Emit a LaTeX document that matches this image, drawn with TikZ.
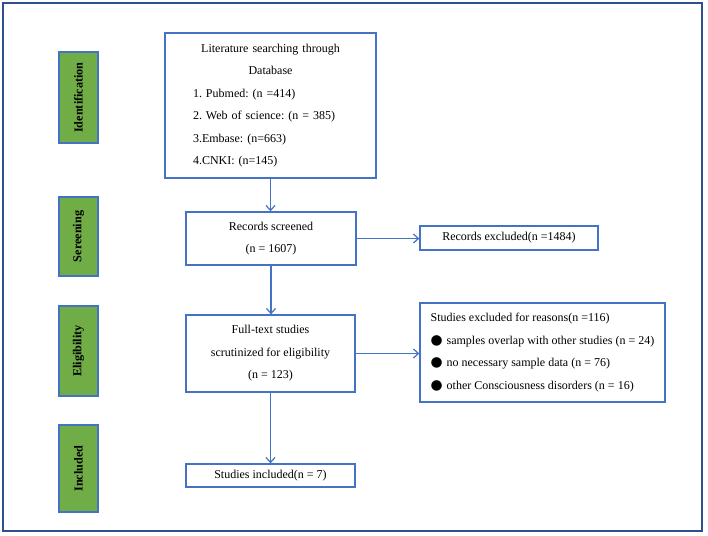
\documentclass[tikz,border=0pt]{standalone}
\usepackage{fontspec}
\setmainfont{Liberation Serif}
\newfontfamily\symfont[Scale=1.15]{DejaVu Sans}
\usetikzlibrary{arrows.meta}
\definecolor{boxblue}{HTML}{4472C4}
\definecolor{labgreen}{HTML}{70AD47}
\definecolor{framecol}{HTML}{2F4F8F}
\tikzset{
  box/.style={draw=boxblue, line width=1.3pt, rectangle, inner sep=0pt,
    font=\fontsize{12}{22.5}\selectfont\frenchspacing},
  stage/.style={draw=boxblue, line width=1.3pt, fill=labgreen, rectangle, inner sep=0pt,
    rotate=90, font=\fontsize{12.2}{14}\selectfont\bfseries},
  arr/.style={draw=boxblue, line width=1.2pt, -{Straight Barb[length=5pt,width=9pt]}},
}
\newcommand\bul{{\symfont ●}\hspace{4pt}}
\begin{document}
\begin{tikzpicture}[x=1pt,y=-1pt]
\useasboundingbox (0,0) rectangle (708,535);
\draw[framecol, line width=1.5pt] (3,3) rectangle (702,531);

% stage labels (rotated)
\node[stage, minimum width=91pt, minimum height=39pt] (sid) at (78.5,97.5) {Identification};
\node[stage, minimum width=79pt, minimum height=39pt] (ssc) at (78.5,236.5) {Sereening};
\node[stage, minimum width=90pt, minimum height=39pt] (sel) at (78.5,351) {Eligibility};
\node[stage, minimum width=87pt, minimum height=39pt] (sin) at (78.5,468.5) {Included};

% main boxes
\node[box, minimum width=211pt, minimum height=145pt, text width=155pt] (lit) at (270.5,105.5)
  {\centering Literature searching through\\ Database\par
   \raggedright 1. Pubmed: (n =414)\\ 2. Web of science: (n = 385)\\ 3.Embase: (n=663)\\ 4.CNKI: (n=145)\par};
\node[box, minimum width=170pt, minimum height=53pt, align=center] (scr) at (271,238.5)
  {Records screened\\ (n = 1607)};
\node[box, minimum width=178pt, minimum height=24pt] (rex) at (509,238)
  {Records excluded(n =1484)};
\node[box, minimum width=169pt, minimum height=77pt, align=center] (ft) at (270.5,353.5)
  {Full-text studies\\ scrutinized for eligibility\\ (n = 123)};
\node[box, minimum width=245pt, minimum height=99pt, align=left] (sex) at (542.5,352.5)
  {Studies excluded for reasons(n =116)\\
   \bul samples overlap with other studies (n = 24)\\
   \bul no necessary sample data (n = 76)\\
   \bul other Consciousness disorders (n = 16)};
\node[box, minimum width=169pt, minimum height=23pt] (inc) at (270.5,475.5)
  {Studies included(n = 7)};

% connectors
\draw[arr] (lit.south) -- (lit.south |- scr.north);
\draw[arr] (scr.south) -- (scr.south |- ft.north);
\draw[arr] (ft.south) -- (inc.north);
\draw[arr] (scr.east) -- (scr.east -| rex.west);
\draw[arr] (ft.east) -- (ft.east -| sex.west);
\end{tikzpicture}
\end{document}
